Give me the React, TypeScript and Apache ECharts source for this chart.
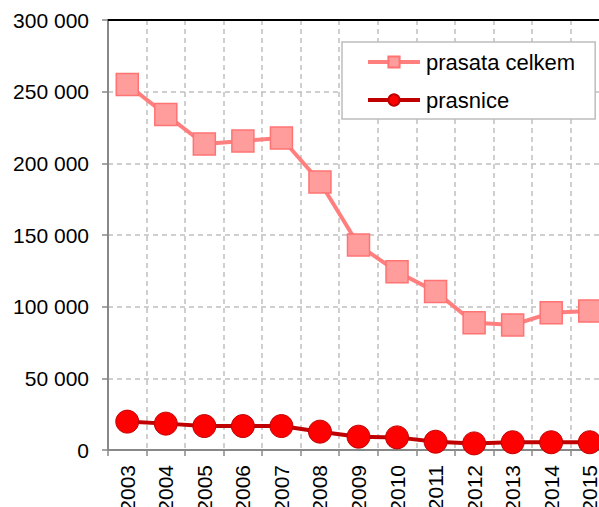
import React, { useEffect, useRef } from "react";
import * as echarts from "echarts";

const years = ["2003", "2004", "2005", "2006", "2007", "2008", "2009", "2010", "2011", "2012", "2013", "2014", "2015"];
const prasataCelkem = [255000, 234000, 213500, 215600, 217700, 187000, 143000, 124400, 110500, 88800, 87200, 95700, 96900];
const prasnice = [19800, 18400, 16700, 16700, 16700, 12800, 9300, 8800, 5800, 4600, 5400, 5400, 5400];
const seriesNames = ["prasata celkem", "prasnice"];

const FONT = "'Liberation Sans', Arial, sans-serif";

export default function App() {
  const ref = useRef<HTMLDivElement>(null);
  useEffect(() => {
    if (!ref.current) return;
    const chart = echarts.init(ref.current, null, { renderer: "svg" });
    chart.setOption({
      animation: false,
      backgroundColor: "#ffffff",
      grid: { left: 108, right: -10, top: 20, bottom: 57, containLabel: false, outerBoundsMode: "none" },
      legend: {
        orient: "vertical",
        left: 342,
        top: 42,
        padding: [9, 20, 8, 24],
        itemWidth: 52,
        itemHeight: 14,
        itemGap: 16,
        borderColor: "#bdbdbd",
        borderWidth: 1.5,
        backgroundColor: "#ffffff",
        lineStyle: { width: 4 },
        textStyle: { fontFamily: FONT, fontSize: 22, color: "#000", padding: [0, 0, 0, 1] },
        data: seriesNames,
      },
      xAxis: [
        {
          type: "category",
          data: years,
          boundaryGap: true,
          axisLine: { lineStyle: { color: "#888888", width: 2 } },
          axisTick: { show: true, length: 6, lineStyle: { color: "#888888", width: 1.5 } },
          axisLabel: { rotate: 90, margin: 15, fontFamily: FONT, fontSize: 21, color: "#000" },
          splitLine: { show: true, lineStyle: { color: "#c0c0c0", type: [5, 4], width: 1.5 } },
        },
        {
          type: "category",
          data: years,
          position: "top",
          axisLine: { lineStyle: { color: "#000000", width: 2 } },
          axisTick: { show: false },
          axisLabel: { show: false },
          splitLine: { show: false },
        },
      ],
      yAxis: {
        type: "value",
        min: 0,
        max: 300000,
        interval: 50000,
        axisLine: { show: true, lineStyle: { color: "#888888", width: 2 } },
        axisTick: { show: true, length: 6, lineStyle: { color: "#888888", width: 1.5 } },
        axisLabel: {
          margin: 19,
          fontFamily: FONT,
          fontSize: 21,
          color: "#000",
          formatter: (v: number) => {
            if (v === 0) return "0";
            const s = String(v);
            return s.slice(0, s.length - 3) + " " + s.slice(s.length - 3);
          },
        },
        splitLine: { show: true, lineStyle: { color: "#c0c0c0", type: [5, 4], width: 1.5 } },
      },
      series: [
        {
          name: seriesNames[0],
          type: "line",
          data: prasataCelkem,
          symbol: "rect",
          symbolSize: 22,
          lineStyle: { color: "#FF7F7F", width: 4 },
          itemStyle: { color: "#FF9C9C", borderColor: "#FF7373", borderWidth: 1.5 },
          z: 3,
        },
        {
          name: seriesNames[1],
          type: "line",
          data: prasnice,
          symbol: "circle",
          symbolSize: 23,
          lineStyle: { color: "#C00000", width: 4 },
          itemStyle: { color: "#FF0000", borderColor: "#C00000", borderWidth: 1 },
          z: 4,
        },
      ],
    });
    return () => chart.dispose();
  }, []);
  return (
    <div
      ref={ref}
      style={{ position: "fixed", left: 0, top: 0, width: 599, height: 507, overflow: "hidden" }}
    />
  );
}
